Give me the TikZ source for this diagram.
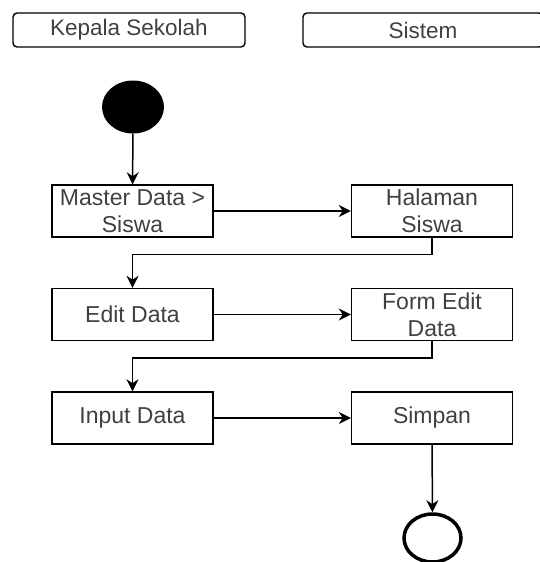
\documentclass[tikz,border=0pt]{standalone}
\usepackage{fontspec}
\setmainfont{Liberation Sans}
\usetikzlibrary{shapes.geometric, arrows.meta, positioning}

\begin{document}
\begin{tikzpicture}[x=1pt, y=-1pt,
        lane/.style={draw, line width=1.4pt, rounded corners=4pt, minimum height=34pt, text=black!75, font=\fontsize{22.5}{26}\selectfont},
        act/.style={draw, line width=1.4pt, minimum width=161pt, minimum height=52pt, align=center, inner sep=1pt, text=black!75, font=\fontsize{23}{27}\selectfont},
        flow/.style={line width=1.5pt, -{Stealth[length=12pt, width=12pt]}}]
        \useasboundingbox (0,0) rectangle (539,562);

        % Swimlane headers
        \node[lane, minimum width=232pt] (kepsek) at (129,30) {Kepala Sekolah};
        \node[lane, minimum width=240pt] (sistem) at (423,30) {Sistem};

        % Start and end
        \node[ellipse, fill=black, minimum width=62pt, minimum height=53pt, inner sep=0pt] (start) at (133,107) {};
        \node[ellipse, draw, line width=3.5pt, minimum width=57pt, minimum height=48pt, inner sep=0pt] (stop) at (432.5,538) {};

        % Activities
        \node[act] (master) at (132.5,211) {Master Data >\\Siswa};
        \node[act] (halaman) at (432,211) {Halaman\\Siswa};
        \node[act] (edit) at (132.5,314.5) {Edit Data};
        \node[act] (form) at (432,314.5) {Form Edit\\Data};
        \node[act] (input) at (132.5,418) {Input Data};
        \node[act] (simpan) at (432,418) {Simpan};

        % Flow
        \draw[flow] (start) -- (master);
        \draw[flow] (master) -- (halaman);
        \draw[flow] (halaman.south) -- ++(0,17) -| (edit.north);
        \draw[flow] (edit) -- (form);
        \draw[flow] (form.south) -- ++(0,17) -| (input.north);
        \draw[flow] (input) -- (simpan);
        \draw[flow] (simpan) -- (stop);

    \end{tikzpicture}
\end{document}
